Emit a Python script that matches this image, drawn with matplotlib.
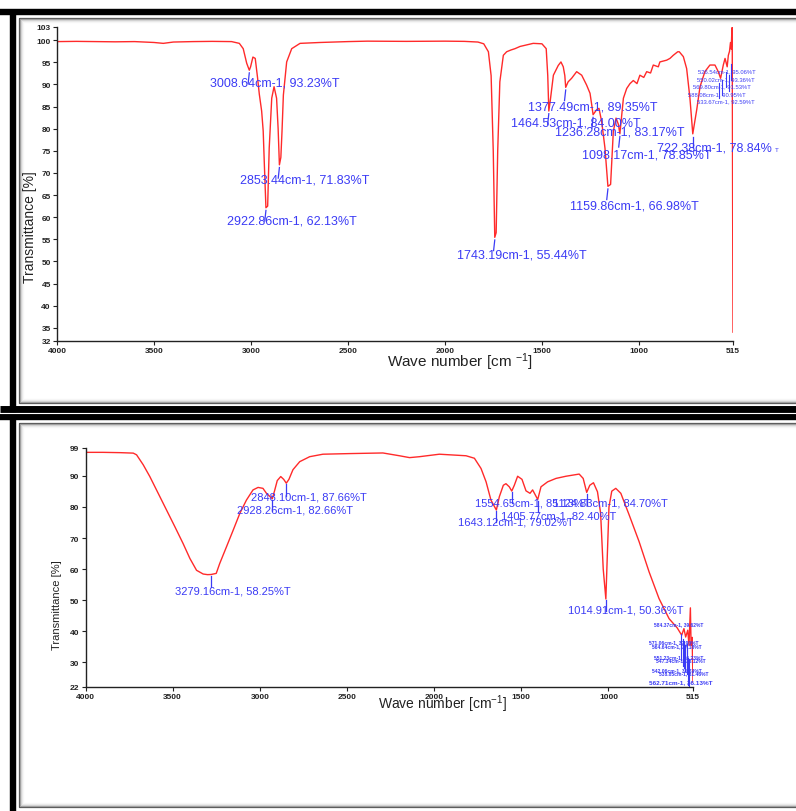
import matplotlib
matplotlib.use('Agg')
import matplotlib.pyplot as plt
from matplotlib.patches import Rectangle

plt.rcParams['font.family'] = ['Liberation Sans', 'DejaVu Sans']
plt.rcParams['mathtext.default'] = 'regular'

# ---------------- top spectrum ----------------
top_wn = [4000, 3900, 3800, 3700, 3600, 3500, 3452, 3400, 3300, 3200, 3100, 3060,
          3040, 3022, 3008.64, 3002, 2990, 2978, 2966, 2957, 2945, 2937, 2931,
          2922.86, 2914, 2906, 2893, 2881, 2868, 2860, 2853.44, 2846, 2840, 2833,
          2816, 2790, 2747, 2644, 2500, 2400, 2200, 2000, 1900, 1830, 1800, 1776,
          1762, 1751, 1743.19, 1736, 1728, 1717, 1699, 1682, 1660, 1639, 1613, 1545,
          1500, 1478, 1470, 1464.53, 1458, 1441, 1416, 1402, 1390, 1382, 1377.49,
          1365, 1347, 1321, 1295, 1270, 1252, 1242, 1236.28, 1218, 1206, 1192, 1175,
          1159.86, 1146, 1132, 1118, 1106, 1098.17, 1080, 1063, 1046, 1029, 1010,
          995, 975, 960, 940, 926, 900, 892, 857, 840, 823, 800, 792, 771, 754, 737,
          722.38, 702, 685, 660, 634, 608, 591, 579, 565, 556, 545, 539, 533, 528,
          524, 521, 519, 517, 515]
top_t = [99.7, 99.75, 99.7, 99.65, 99.7, 99.5, 99.3, 99.6, 99.7, 99.75, 99.7, 99.3,
         98.1, 94.8, 93.23, 94.0, 96.2, 95.9, 91.5, 87.8, 84.0, 79.5, 71.9,
         62.13, 62.5, 75.6, 86.9, 89.5, 86.9, 80.0, 71.83, 73.5, 79.4, 87.6,
         95.1, 98.1, 99.3, 99.5, 99.7, 99.8, 99.75, 99.8, 99.75, 99.6, 99.2, 97.4,
         92.0, 75.0, 55.44, 56.5, 75.0, 90.6, 96.6, 97.4, 97.8, 98.1, 98.6, 99.3,
         99.2, 98.1, 92.0, 84.00, 86.0, 92.1, 94.3, 95.1, 94.0, 92.0, 89.35,
         90.6, 91.4, 92.9, 92.1, 89.9, 88.0, 85.0, 83.17, 84.3, 84.6, 81.6, 75.6,
         66.98, 67.4, 79.4, 82.4, 81.0, 78.85, 86.9, 89.1, 90.2, 90.9, 90.2,
         92.1, 91.6, 92.9, 92.6, 94.4, 94.0, 95.1, 95.5, 95.9, 96.6, 97.4, 97.4, 96.3, 93.6, 86.9,
         78.84, 84.3, 89.5, 92.9, 94.4, 94.4, 92.9, 91.4, 94.4, 95.9, 94.0, 96.6, 97.5, 99.5,
         98.0, 102.1, 102.9, 64.0, 34.0]

top_peak_wn = [3008.64, 2853.44, 2922.86, 1743.19, 1377.49, 1464.53, 1236.28, 1098.17, 1159.86]
top_peak_t = [93.23, 71.83, 62.13, 55.44, 89.35, 84.00, 83.17, 78.85, 66.98]
top_small_wn = [526.54, 550.02, 569.80, 588.08, 533.67]
top_small_t = [95.06, 93.36, 91.53, 90.95, 92.59]

# ---------------- bottom spectrum ----------------
bot_wn = [4000, 3900, 3800, 3726, 3707, 3669, 3631, 3583, 3535, 3487, 3440, 3401,
          3363, 3325, 3300, 3279.16, 3250, 3230, 3191, 3153, 3115, 3077, 3039, 3010,
          2982, 2962, 2928.26, 2915, 2900, 2880, 2863, 2848.10, 2833, 2810, 2771,
          2714, 2638, 2485, 2294, 2199, 2141, 2084, 1970, 1817, 1769, 1731, 1702,
          1674, 1643.12, 1626, 1603, 1588, 1569, 1554.65, 1540, 1521, 1496, 1473,
          1450, 1435, 1405.77, 1387, 1349, 1301, 1244, 1168, 1145, 1124.83, 1107,
          1086, 1063, 1045, 1030, 1014.91, 1008, 997, 981, 958, 929, 881, 824, 767,
          710, 652, 605, 580, 567, 557, 545, 538, 530, 526, 520, 515]
bot_t = [97.6, 97.6, 97.5, 97.35, 96.8, 93.6, 89.8, 84.4, 79.0, 73.6, 68.2, 63.4,
         59.6, 58.4, 58.2, 58.25, 58.6, 61.8, 67.2, 72.5, 77.9, 82.2, 85.5, 86.3,
         86.0, 84.4, 82.66, 85.3, 88.5, 89.8, 88.9, 87.66, 88.9, 92.0, 94.6,
         96.2, 97.0, 97.2, 97.4, 96.5, 95.9, 96.2, 97.0, 96.5, 95.7, 92.4, 88.1,
         82.2, 79.02, 83.3, 87.0, 87.5, 86.5, 85.13, 87.0, 89.9, 88.9, 85.2,
         84.4, 85.5, 82.40, 86.5, 88.1, 89.2, 89.9, 90.6, 89.2, 84.70, 87.0,
         87.8, 84.9, 78.0, 60.0, 50.36, 62.0, 80.0, 85.1, 86.0, 84.4, 77.4, 68.8, 59.1,
         50.5, 44.0, 41.0, 38.7, 40.8, 38.1, 40.3, 35.4, 47.5, 35.4, 38.0, 23.6]

bot_peak_wn = [3279.16, 2848.10, 2928.26, 1554.65, 1124.83, 1405.77, 1643.12, 1014.91]
bot_peak_t = [58.25, 87.66, 82.66, 85.13, 84.70, 82.40, 79.02, 50.36]
bot_small_wn = [584.37, 571.06, 564.64, 551.23, 547.34, 542.06, 538.85, 562.71]
bot_small_t = [39.62, 37.90, 37.18, 36.23, 35.12, 31.74, 31.46, 36.13]

# label anchors (left edge, centre) in data units
top_lab_pos = [(3211, 90.5), (3057, 68.5), (3124, 59.3), (1938, 51.6), (1572, 85.1),
               (1660, 81.3), (1433, 79.3), (1294, 74.1), (1355, 62.6)]
top_small_pos = [(697, 93.0), (703, 91.3), (723, 89.7), (749, 88.0), (703, 86.3)]
bot_lab_pos = [(3487, 53.0), (3052, 83.4), (3132, 79.2), (1764, 81.5), (1318, 81.5),
               (1615, 77.3), (1861, 75.4), (1231, 46.9)]
bot_small_pos = [(738, 42.3), (767, 36.5), (750, 35.2), (738, 31.7), (727, 30.7),
                 (750, 27.5), (710, 26.5), (767, 23.6)]

RED = '#ff2a2a'
BLUE = '#3b3bf5'
W, H = 796, 812

fig = plt.figure(figsize=(W / 100, H / 100), dpi=100)

# --------- panel frames (pixel coordinates) ----------
bg = fig.add_axes([0, 0, 1, 1], zorder=-5)
bg.set_xlim(0, W)
bg.set_ylim(H, 0)
bg.axis('off')
for top, bottom, top_band, bot_band in [(19, 404, 13, 409.5), (424, 808, 418, None)]:
    for k, c in enumerate(['#555555', '#9a9a9a', '#cfcfcf', '#e8e8e8', '#f6f6f6']):
        bg.add_patch(Rectangle((19 + k, top + k), 900, bottom - top - 2 * k,
                               fill=False, ec=c, lw=0.9))
    bg.plot([0, W], [top_band, top_band], color='black', lw=4.6, solid_capstyle='butt')
    if bot_band:
        bg.plot([0, W], [bot_band, bot_band], color='black', lw=5.0, solid_capstyle='butt')
bg.plot([13, 13], [10, H], color='black', lw=4.6, solid_capstyle='butt')
bg.plot([0, W], [413.6, 413.6], color='white', lw=0.8)


def style_axes(ax, fs):
    for s in ['top', 'right']:
        ax.spines[s].set_visible(False)
    for s in ['left', 'bottom']:
        ax.spines[s].set_linewidth(1.0)
        ax.spines[s].set_color('#222222')
    ax.tick_params(direction='out', length=3, width=0.8, pad=1.5, labelsize=fs,
                   colors='#222222')
    for lab in ax.get_xticklabels() + ax.get_yticklabels():
        lab.set_fontweight('bold')
    ax.patch.set_alpha(0)


# ---------------- top chart ----------------
ax1 = fig.add_axes([57 / W, 1 - 342 / H, 676 / W, 314 / H])
ax1.plot(top_wn, top_t, color=RED, lw=1.0)
ax1.set_xlim(4000, 515)
ax1.set_ylim(32, 103)
ax1.set_xticks([4000, 3500, 3000, 2500, 2000, 1500, 1000, 515])
ax1.set_yticks([32, 35, 40, 45, 50, 55, 60, 65, 70, 75, 80, 85, 90, 95, 100, 103])
style_axes(ax1, 6)
for wn, t, (lx, ly) in zip(top_peak_wn, top_peak_t, top_lab_pos):
    ax1.plot([wn, wn + 6], [t - 0.6, t - 3.0], color=BLUE, lw=0.9)
    ax1.text(lx, ly, '{0:.2f}cm-1, {1:.2f}%T'.format(wn, t), color=BLUE,
             fontsize=9, ha='left', va='center')
ax1.plot([722.38, 722.38], [78.84 - 0.6, 78.84 - 3.0], color=BLUE, lw=0.9)
ax1.text(907, 75.7, '722.38cm-1, 78.84%', color=BLUE, fontsize=9, ha='left', va='center')
ax1.text(300, 75.2, 'T', color=BLUE, fontsize=4.5, ha='left', va='center')
for wn, t, (lx, ly) in zip(top_small_wn, top_small_t, top_small_pos):
    ax1.plot([wn, wn], [t - 0.5, t - 4.0], color=BLUE, lw=0.8)
    ax1.text(lx, ly, '{0:.2f}cm-1, {1:.2f}%T'.format(wn, t), color=BLUE,
             fontsize=4.2, ha='left', va='center')
fig.text(30 / W, 1 - 227 / H, 'Transmittance [%]', rotation=90, fontsize=10,
         ha='center', va='center', color='#222222')
fig.text(460 / W, 1 - 362 / H, 'Wave number [cm $^{-1}$]', fontsize=11,
         ha='center', va='center', color='#222222')

# ---------------- bottom chart ----------------
ax2 = fig.add_axes([85.5 / W, 1 - 688 / H, 607.5 / W, 239 / H])
ax2.plot(bot_wn, bot_t, color=RED, lw=1.0)
ax2.set_xlim(4000, 515)
ax2.set_ylim(22, 99)
ax2.set_xticks([4000, 3500, 3000, 2500, 2000, 1500, 1000, 515])
ax2.set_yticks([22, 30, 40, 50, 60, 70, 80, 90, 99])
style_axes(ax2, 6)
for wn, t, (lx, ly) in zip(bot_peak_wn, bot_peak_t, bot_lab_pos):
    ax2.plot([wn, wn], [t - 0.4, t - 4.0], color=BLUE, lw=0.9)
    ax2.text(lx, ly, '{0:.2f}cm-1, {1:.2f}%T'.format(wn, t), color=BLUE,
             fontsize=8, ha='left', va='center')
for i, (wn, t, (lx, ly)) in enumerate(zip(bot_small_wn, bot_small_t, bot_small_pos)):
    ax2.plot([wn, wn], [t - 0.5, t - 9.0], color=BLUE, lw=0.8)
    ax2.text(lx, ly, '{0:.2f}cm-1, {1:.2f}%T'.format(wn, t), color=BLUE,
             fontsize=4.6 if i == len(bot_small_wn) - 1 else 3.6, fontweight='bold',
             ha='left', va='center')
fig.text(57 / W, 1 - 605 / H, 'Transmittance [%]', rotation=90, fontsize=8,
         ha='center', va='center', color='#222222')
fig.text(442 / W, 1 - 704 / H, 'Wave number [cm$^{-1}$]', fontsize=10,
         ha='center', va='center', color='#222222')

fig.savefig('out.png', dpi=100)
